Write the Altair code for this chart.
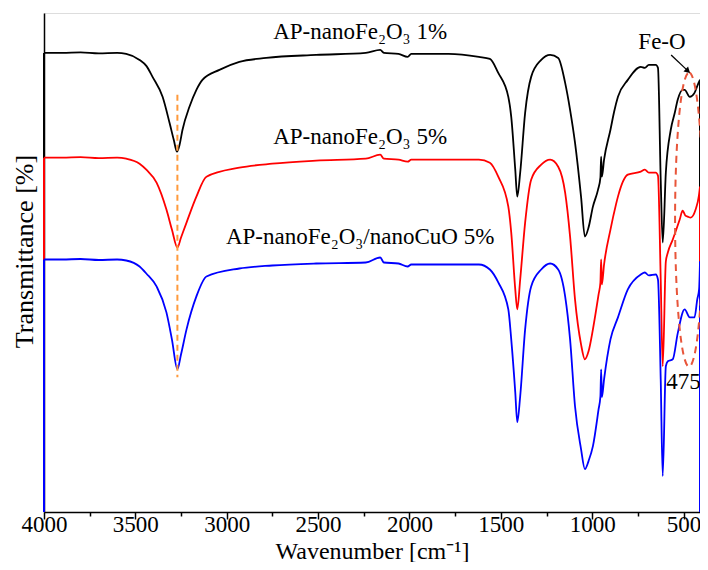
import altair as alt
import pandas as pd

# ---- series data (wavenumber cm-1, transmittance, arbitrary offset units) ----
wn_black = [4000, 3900, 3800, 3700, 3600, 3550, 3477, 3440, 3406, 3351, 3313, 3290, 3272, 3258, 3242, 3204,
            3166, 3133, 3040, 2931, 2784, 2511, 2239, 2160, 2140, 2060, 2010, 1990, 1786, 1620, 1560, 1514,
            1459, 1443, 1421, 1410, 1394, 1367, 1334, 1279, 1230, 1186, 1148, 1121, 1094, 1061, 1040, 1020,
            996, 968, 955, 951, 947, 935, 900, 880, 859, 805, 734, 712, 690, 652, 640, 625, 614, 597, 570,
            548, 532, 505, 494, 466, 440, 418, 410]
t_black = [92.0, 92.0, 92.1, 91.9, 92.0, 91.8, 90.6, 89.4, 87.2, 83.2, 78.0, 74.6, 72.2, 73.6, 76.6, 81.2,
           84.6, 86.6, 88.6, 90.2, 91.0, 91.6, 92.0, 92.6, 92.0, 91.8, 91.2, 91.8, 91.8, 91.2, 90.8, 88.0,
           83.2, 79.2, 68.6, 63.2, 68.0, 80.0, 87.2, 90.6, 91.6, 91.0, 86.0, 80.6, 74.0, 63.2, 55.2, 57.0,
           61.2, 64.6, 67.0, 71.2, 67.2, 70.6, 76.6, 80.2, 83.2, 86.6, 89.2, 89.0, 89.6, 89.6, 89.0, 66.6,
           54.0, 68.0, 76.6, 80.0, 82.6, 84.6, 84.6, 83.2, 84.0, 86.0, 86.6]

wn_red = [4000, 3900, 3800, 3700, 3600, 3550, 3477, 3440, 3384, 3330, 3300, 3270, 3250, 3220, 3166, 3111,
          2931, 2751, 2511, 2239, 2160, 2140, 2060, 2010, 1990, 1786, 1620, 1560, 1514, 1459, 1443, 1421,
          1410, 1394, 1367, 1334, 1279, 1230, 1186, 1148, 1121, 1094, 1061, 1040, 1020, 996, 965, 955, 951,
          947, 935, 900, 870, 859, 805, 734, 712, 690, 652, 640, 625, 614, 597, 586, 559, 521, 505, 490,
          477, 461, 434, 416, 410]
t_red = [71.0, 71.0, 71.1, 70.9, 71.0, 70.8, 69.8, 68.6, 66.0, 60.6, 56.6, 53.0, 55.0, 58.0, 63.2, 67.2,
         69.0, 69.8, 70.4, 70.8, 71.6, 70.8, 70.6, 70.2, 70.6, 70.6, 70.6, 70.0, 67.2, 61.2, 56.0, 44.6,
         40.6, 46.6, 58.0, 66.6, 69.6, 70.6, 69.2, 64.0, 55.2, 42.6, 33.6, 30.6, 32.2, 36.6, 43.6, 46.0, 50.6,
         45.6, 49.6, 56.6, 61.6, 63.2, 67.6, 68.2, 68.6, 68.0, 68.0, 67.4, 46.6, 29.2, 50.2, 52.0, 54.6, 58.6,
         60.4, 59.4, 59.2, 59.0, 60.6, 63.4, 65.2]

wn_blue = [4000, 3900, 3800, 3700, 3600, 3550, 3477, 3440, 3384, 3330, 3300, 3270, 3250, 3220, 3166, 3111,
           2931, 2751, 2511, 2239, 2160, 2140, 2060, 2010, 1990, 1786, 1620, 1560, 1514, 1459, 1443, 1421,
           1410, 1394, 1367, 1334, 1279, 1230, 1186, 1148, 1121, 1094, 1061, 1040, 1020, 996, 965, 955, 951,
           947, 935, 900, 859, 805, 734, 712, 690, 652, 640, 625, 614, 597, 586, 559, 532, 494, 466, 440,
           425, 415, 410]
t_blue = [50.6, 50.6, 50.7, 50.5, 50.6, 50.4, 49.2, 47.8, 45.2, 40.0, 34.6, 28.6, 31.6, 36.6, 43.2, 47.2,
          48.8, 49.4, 49.8, 50.0, 51.0, 50.0, 49.8, 49.2, 49.6, 49.6, 49.6, 48.6, 46.0, 40.6, 34.6, 24.0,
          18.0, 23.2, 36.6, 45.2, 48.6, 49.8, 48.6, 43.2, 34.6, 21.2, 12.6, 8.6, 10.2, 13.2, 20.6, 23.2, 28.6,
          23.0, 26.6, 34.6, 39.0, 44.6, 47.6, 48.0, 47.4, 47.6, 46.6, 26.6, 7.2, 29.2, 30.2, 30.6, 35.8, 40.6,
          39.0, 39.0, 42.6, 44.6, 50.2]

series_names = ["AP-nanoFe₂O₃ 1%", "AP-nanoFe₂O₃ 5%", "AP-nanoFe₂O₃/nanoCuO 5%"]
series_colors = ["#000000", "#ff0000", "#0000ff"]
series_wn = [wn_black, wn_red, wn_blue]
series_t = [t_black, t_red, t_blue]

# label anchor positions (wavenumber, transmittance)
label_wn = [2270, 2270, 2270]
label_t = [96.2, 75.2, 55.2]

tick_vals = [4000, 3750, 3500, 3250, 3000, 2750, 2500, 2250, 2000, 1750, 1500, 1250, 1000, 750, 500]

FONT = "Liberation Serif"
X = alt.X("wn:Q", scale=alt.Scale(domain=[4000, 410], nice=False, zero=False),
          axis=alt.Axis(values=tick_vals, format="d", title="Wavenumber [cm⁻¹]",
                        labelExpr="datum.value % 500 === 0 ? datum.label : ''",
                        tickSize={"condition": {"test": "datum.value % 500 === 0", "value": 7}, "value": 4},
                        labelFont=FONT, labelFontSize=23, labelColor="black", labelPadding=-6,
                        titleFont=FONT, titleFontSize=24, titleFontWeight="normal", titleColor="black",
                        titleBaseline="alphabetic", titleY=46,
                        domainColor="black", domainWidth=1.5, tickColor="black", tickWidth=1.5,
                        grid=False, labelFlush=False))
Y = alt.Y("t:Q", scale=alt.Scale(domain=[0, 100], nice=False, zero=False),
          axis=alt.Axis(title="Transmittance [%]", labels=False, ticks=False, grid=False,
                        titleFont=FONT, titleFontSize=26, titleFontWeight="normal", titleColor="black",
                        titleBaseline="middle", titleX=-20, titleY=238,
                        domainColor="black", domainWidth=1.5))

layers = []
for name, col, wns, ts in zip(series_names, series_colors, series_wn, series_t):
    df = pd.DataFrame({"wn": wns, "t": ts, "i": range(len(wns))})
    edges = pd.DataFrame({"wn": [wns[0], wns[-1]], "t": [ts[0], ts[-1]]})
    layers.append(alt.Chart(df).mark_line(color=col, strokeWidth=1.8, interpolate="monotone").encode(
        x=X, y=Y, order="i:Q"))
    layers.append(alt.Chart(edges).mark_rule(color=col, strokeWidth=2).encode(
        x="wn:Q", y="t:Q", y2=alt.datum(0)))

labels_df = pd.DataFrame({"wn": label_wn, "t": label_t, "txt": series_names})
layers.append(alt.Chart(labels_df).mark_text(font=FONT, fontSize=23, color="black",
                                             align="center", baseline="middle").encode(
    x="wn:Q", y="t:Q", text="txt:N"))

# dashed marker of the band minimum near 3270 cm-1
nh_df = pd.DataFrame({"wn": [3270], "t": [83.6], "t2": [27.0]})
layers.append(alt.Chart(nh_df).mark_rule(color="#ff9a3c", strokeWidth=2, strokeDash=[6, 4]).encode(
    x="wn:Q", y="t:Q", y2="t2:Q"))

# Fe-O ellipse, arrow and texts
ell_df = pd.DataFrame({"wn": [470], "t": [58.6]})
layers.append(alt.Chart(ell_df).mark_point(
    shape="M 0 -1 A 0.095 1 0 0 1 0 1 A 0.095 1 0 0 1 0 -1 Z", size=86436, filled=False,
    stroke="#e8553a", strokeWidth=2, strokeDash=[7, 5], opacity=1).encode(x="wn:Q", y="t:Q"))

arrow_df = pd.DataFrame({"wn": [568], "t": [91.6], "wn2": [485], "t2": [88.7]})
layers.append(alt.Chart(arrow_df).mark_rule(color="black", strokeWidth=1.3).encode(
    x="wn:Q", y="t:Q", x2="wn2:Q", y2="t2:Q"))
head_df = pd.DataFrame({"wn": [480], "t": [88.5]})
layers.append(alt.Chart(head_df).mark_point(shape="triangle", size=45, filled=True, color="black",
                                            angle=133, opacity=1).encode(x="wn:Q", y="t:Q"))

ann_df = pd.DataFrame({"wn": [618, 500], "t": [94.2, 26.0], "txt": ["Fe-O", "475"]})
layers.append(alt.Chart(ann_df).mark_text(font=FONT, fontSize=23, color="black",
                                          align="center", baseline="middle").encode(
    x="wn:Q", y="t:Q", text="txt:N"))

chart = alt.layer(*layers).properties(
    width=656, height=499,
    autosize=alt.AutoSizeParams(type="none"),
    padding={"left": 36, "top": 5, "right": 0, "bottom": 50},
).configure_view(stroke="black", strokeWidth=1.5).configure(background="white")

chart.save("out.html", embed_options={"renderer": "svg", "actions": False})
